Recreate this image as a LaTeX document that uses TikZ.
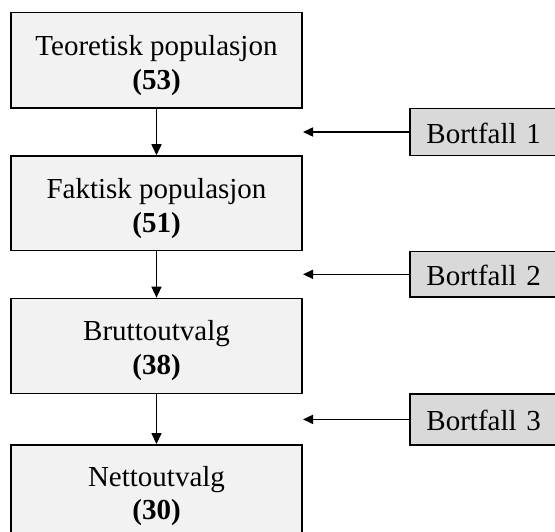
\documentclass[tikz,border=0pt]{standalone}
\usepackage{fontspec}
\setmainfont{Liberation Serif}
\usetikzlibrary{arrows.meta}
\definecolor{mainfill}{HTML}{F2F2F2}
\definecolor{lossfill}{HTML}{D9D9D9}
\begin{document}
\begin{tikzpicture}[x=1pt,y=-1pt,
  mainbox/.style={draw=black, line width=1.5pt, fill=mainfill, minimum width=291pt, inner sep=0pt},
  lossbox/.style={draw=black, line width=1.5pt, fill=lossfill, anchor=west, text width=130pt, align=left, inner xsep=16.7pt, inner ysep=0pt, text height=23pt, text depth=0pt, font=\fontsize{29}{34}\selectfont},
  txt/.style={anchor=base, inner sep=0pt, font=\fontsize{29}{34}\selectfont},
  btxt/.style={anchor=base, inner sep=0pt, font=\fontsize{29}{34}\selectfont\bfseries},
  flow/.style={line width=1.5pt, -{Triangle[length=11pt,width=10pt]}},
  side/.style={line width=1.5pt, -{Triangle[length=10pt,width=9pt]}}]
\useasboundingbox (0,0) rectangle (555,532);
\clip (0,0) rectangle (555,532);
% main boxes
\node[mainbox, minimum height=95.5pt] (b1) at (156.5,60.25) {};
\node[mainbox, minimum height=94.7pt] (b2) at (156.5,203.35) {};
\node[mainbox, minimum height=95pt] (b3) at (156.5,345.9) {};
\node[mainbox, minimum height=95pt] (b4) at (156.5,492.3) {};
% texts
\node[txt] (t1) at (156.5,56) {Teoretisk populasjon};
\node[btxt] (n1) at (156.5,90) {(53)};
\node[txt] (t2) at (156.5,198.5) {Faktisk populasjon};
\node[btxt] (n2) at (156.5,232.5) {(51)};
\node[txt] (t3) at (156.5,340) {Bruttoutvalg};
\node[btxt] (n3) at (156.5,374.5) {(38)};
\node[txt] (t4) at (156.5,486) {Nettoutvalg};
\node[btxt] (n4) at (156.5,519.5) {(30)};
% loss boxes
\node[lossbox, minimum height=47.4pt] (l1) at (409,132) {Bortfall 1};
\node[lossbox, minimum height=45.3pt] (l2) at (409,274.3) {Bortfall 2};
\node[lossbox, minimum height=50.8pt] (l3) at (409,419.4) {Bortfall 3};
\coordinate (e1) at (303,132);
\coordinate (e2) at (303,274.3);
\coordinate (e3) at (303,419.4);
% arrows
\draw[flow] (b1.south) -- (b2.north);
\draw[flow] (b2.south) -- (b3.north);
\draw[flow] (b3.south) -- (b4.north);
\draw[side] (l1.west) -- (e1);
\draw[side] (l2.west) -- (e2);
\draw[side] (l3.west) -- (e3);
\end{tikzpicture}
\end{document}
